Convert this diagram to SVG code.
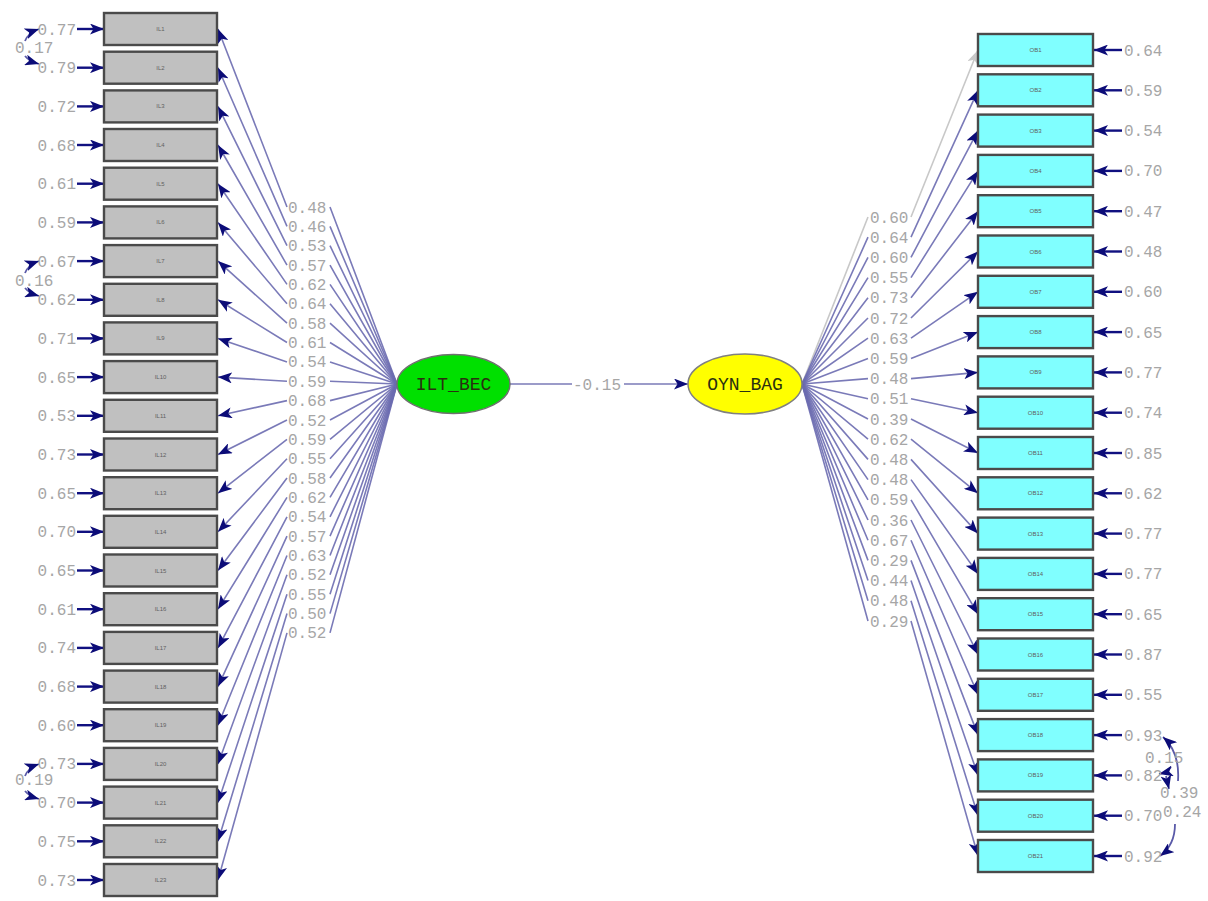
<svg xmlns="http://www.w3.org/2000/svg" width="1208" height="901" viewBox="0 0 1208 901">
<style>
  .bg{fill:#ffffff}
  .obsL{fill:#c0c0c0;stroke:#4a4a4a;stroke-width:2.4}
  .obsR{fill:#80ffff;stroke:#4a4a4a;stroke-width:2.4}
  .blab{font-family:"Liberation Sans",Arial,sans-serif;font-size:6px;fill:#606060;text-anchor:middle}
  .num{font-family:"Liberation Mono","Courier New",monospace;font-size:16px;fill:#a6a6a6}
  .end{text-anchor:end}
  .lat{font-family:"Liberation Mono","Courier New",monospace;font-size:18px;fill:#2a3010;text-anchor:middle}
  .load{fill:none;stroke:#6c6cb0;stroke-width:1.6;stroke-opacity:0.9;marker-end:url(#ah)}
  .fixed{fill:none;stroke:#c8c8c8;stroke-width:1.6;marker-end:url(#ahg)}
  .err{fill:none;stroke:#101080;stroke-width:2.4;marker-end:url(#ah)}
  .cov{fill:none;stroke:#5a5aa8;stroke-width:1.8;marker-end:url(#ah)}
</style>
<defs>
  <marker id="ah" markerUnits="userSpaceOnUse" markerWidth="15" markerHeight="11" refX="14" refY="5.5" orient="auto">
    <path d="M0,0 L14,5.5 L0,11 L3.5,5.5 z" fill="#0c0c78"/>
  </marker>
  <marker id="ahg" markerUnits="userSpaceOnUse" markerWidth="15" markerHeight="11" refX="14" refY="5.5" orient="auto">
    <path d="M0,0 L14,5.5 L0,11 L3.5,5.5 z" fill="#c8c8c8"/>
  </marker>
</defs>
<rect class="bg" x="0" y="0" width="1208" height="901"/>

<!-- paths: loadings, structural path, error terms, error covariances -->
<g id="connectors">
  <!-- ILT_BEC loadings -->
  <path class="load" d="M397,384 L330,207 M287,207 L218,29"/>
  <path class="load" d="M397,384 L330,226.4 M287,226.4 L218,67.7"/>
  <path class="load" d="M397,384 L330,245.7 M287,245.7 L218,106.4"/>
  <path class="load" d="M397,384 L330,265.1 M287,265.1 L218,145"/>
  <path class="load" d="M397,384 L330,284.4 M287,284.4 L218,183.7"/>
  <path class="load" d="M397,384 L330,303.8 M287,303.8 L218,222.4"/>
  <path class="load" d="M397,384 L330,323.2 M287,323.2 L218,261.1"/>
  <path class="load" d="M397,384 L330,342.5 M287,342.5 L218,299.8"/>
  <path class="load" d="M397,384 L330,361.9 M287,361.9 L218,338.4"/>
  <path class="load" d="M397,384 L330,381.2 M287,381.2 L218,377.1"/>
  <path class="load" d="M397,384 L330,400.6 M287,400.6 L218,415.8"/>
  <path class="load" d="M397,384 L330,420 M287,420 L218,454.5"/>
  <path class="load" d="M397,384 L330,439.3 M287,439.3 L218,493.2"/>
  <path class="load" d="M397,384 L330,458.7 M287,458.7 L218,531.8"/>
  <path class="load" d="M397,384 L330,478 M287,478 L218,570.5"/>
  <path class="load" d="M397,384 L330,497.4 M287,497.4 L218,609.2"/>
  <path class="load" d="M397,384 L330,516.8 M287,516.8 L218,647.9"/>
  <path class="load" d="M397,384 L330,536.1 M287,536.1 L218,686.6"/>
  <path class="load" d="M397,384 L330,555.5 M287,555.5 L218,725.2"/>
  <path class="load" d="M397,384 L330,574.8 M287,574.8 L218,763.9"/>
  <path class="load" d="M397,384 L330,594.2 M287,594.2 L218,802.6"/>
  <path class="load" d="M397,384 L330,613.6 M287,613.6 L218,841.3"/>
  <path class="load" d="M397,384 L330,632.9 M287,632.9 L218,880"/>

  <!-- OYN_BAG loadings -->
  <path class="fixed" d="M802,384 L868,217 M911,217 L978,50"/>
  <path class="load" d="M802,384 L868,237.2 M911,237.2 L978,90.3"/>
  <path class="load" d="M802,384 L868,257.4 M911,257.4 L978,130.6"/>
  <path class="load" d="M802,384 L868,277.6 M911,277.6 L978,170.9"/>
  <path class="load" d="M802,384 L868,297.8 M911,297.8 L978,211.2"/>
  <path class="load" d="M802,384 L868,318 M911,318 L978,251.5"/>
  <path class="load" d="M802,384 L868,338.2 M911,338.2 L978,291.8"/>
  <path class="load" d="M802,384 L868,358.4 M911,358.4 L978,332.1"/>
  <path class="load" d="M802,384 L868,378.6 M911,378.6 L978,372.4"/>
  <path class="load" d="M802,384 L868,398.8 M911,398.8 L978,412.7"/>
  <path class="load" d="M802,384 L868,419 M911,419 L978,453"/>
  <path class="load" d="M802,384 L868,439.2 M911,439.2 L978,493.3"/>
  <path class="load" d="M802,384 L868,459.4 M911,459.4 L978,533.6"/>
  <path class="load" d="M802,384 L868,479.6 M911,479.6 L978,573.9"/>
  <path class="load" d="M802,384 L868,499.8 M911,499.8 L978,614.2"/>
  <path class="load" d="M802,384 L868,520 M911,520 L978,654.5"/>
  <path class="load" d="M802,384 L868,540.2 M911,540.2 L978,694.8"/>
  <path class="load" d="M802,384 L868,560.4 M911,560.4 L978,735.1"/>
  <path class="load" d="M802,384 L868,580.6 M911,580.6 L978,775.4"/>
  <path class="load" d="M802,384 L868,600.8 M911,600.8 L978,815.7"/>
  <path class="load" d="M802,384 L868,621 M911,621 L978,856"/>

  <!-- structural path -->
  <path class="load" d="M510,384 L572,384 M624,384 L688,384"/>

  <!-- left error terms -->
  <path class="err" d="M77,29 L104,29"/>
  <path class="err" d="M77,67.7 L104,67.7"/>
  <path class="err" d="M77,106.4 L104,106.4"/>
  <path class="err" d="M77,145 L104,145"/>
  <path class="err" d="M77,183.7 L104,183.7"/>
  <path class="err" d="M77,222.4 L104,222.4"/>
  <path class="err" d="M77,261.1 L104,261.1"/>
  <path class="err" d="M77,299.8 L104,299.8"/>
  <path class="err" d="M77,338.4 L104,338.4"/>
  <path class="err" d="M77,377.1 L104,377.1"/>
  <path class="err" d="M77,415.8 L104,415.8"/>
  <path class="err" d="M77,454.5 L104,454.5"/>
  <path class="err" d="M77,493.2 L104,493.2"/>
  <path class="err" d="M77,531.8 L104,531.8"/>
  <path class="err" d="M77,570.5 L104,570.5"/>
  <path class="err" d="M77,609.2 L104,609.2"/>
  <path class="err" d="M77,647.9 L104,647.9"/>
  <path class="err" d="M77,686.6 L104,686.6"/>
  <path class="err" d="M77,725.2 L104,725.2"/>
  <path class="err" d="M77,763.9 L104,763.9"/>
  <path class="err" d="M77,802.6 L104,802.6"/>
  <path class="err" d="M77,841.3 L104,841.3"/>
  <path class="err" d="M77,880 L104,880"/>

  <!-- right error terms -->
  <path class="err" d="M1122,50 L1094,50"/>
  <path class="err" d="M1122,90.3 L1094,90.3"/>
  <path class="err" d="M1122,130.6 L1094,130.6"/>
  <path class="err" d="M1122,170.9 L1094,170.9"/>
  <path class="err" d="M1122,211.2 L1094,211.2"/>
  <path class="err" d="M1122,251.5 L1094,251.5"/>
  <path class="err" d="M1122,291.8 L1094,291.8"/>
  <path class="err" d="M1122,332.1 L1094,332.1"/>
  <path class="err" d="M1122,372.4 L1094,372.4"/>
  <path class="err" d="M1122,412.7 L1094,412.7"/>
  <path class="err" d="M1122,453 L1094,453"/>
  <path class="err" d="M1122,493.3 L1094,493.3"/>
  <path class="err" d="M1122,533.6 L1094,533.6"/>
  <path class="err" d="M1122,573.9 L1094,573.9"/>
  <path class="err" d="M1122,614.2 L1094,614.2"/>
  <path class="err" d="M1122,654.5 L1094,654.5"/>
  <path class="err" d="M1122,694.8 L1094,694.8"/>
  <path class="err" d="M1122,735.1 L1094,735.1"/>
  <path class="err" d="M1122,775.4 L1094,775.4"/>
  <path class="err" d="M1122,815.7 L1094,815.7"/>
  <path class="err" d="M1122,856 L1094,856"/>

  <!-- error covariances, left -->
  <path class="cov" d="M25,41 Q28,33 39,29"/>
  <path class="cov" d="M25,56 Q29,61 39,64"/>
  <path class="cov" d="M25,273 Q28,265 39,261"/>
  <path class="cov" d="M25,288 Q29,293 39,296"/>
  <path class="cov" d="M25,776 Q28,768 39,764"/>
  <path class="cov" d="M25,791 Q29,796 39,799"/>
  <!-- error covariances, right -->
  <path class="cov" d="M1178,781 Q1180,752 1163,737"/>
  <path class="cov" d="M1171,767 Q1168,772 1159,774"/>
  <path class="cov" d="M1166,776 L1169,789"/>
  <path class="cov" d="M1175,824 Q1175,845 1160,856"/>
</g>

<!-- latent variables -->
<g id="ILT_BEC">
  <ellipse cx="453.5" cy="384" rx="56.5" ry="29.5" fill="#00e000" stroke="#707070" stroke-width="1.5"/>
  <text class="lat" x="453.5" y="390">ILT_BEC</text>
</g>
<g id="OYN_BAG">
  <ellipse cx="745" cy="384" rx="57" ry="30" fill="#ffff00" stroke="#808080" stroke-width="1.5"/>
  <text class="lat" x="745" y="390">OYN_BAG</text>
</g>

<!-- observed indicators, left block -->
<g id="IL1"><rect class="obsL" x="104" y="13" width="113" height="32"/><text class="blab" x="160.5" y="31">IL1</text></g>
<g id="IL2"><rect class="obsL" x="104" y="51.7" width="113" height="32"/><text class="blab" x="160.5" y="69.7">IL2</text></g>
<g id="IL3"><rect class="obsL" x="104" y="90.4" width="113" height="32"/><text class="blab" x="160.5" y="108.4">IL3</text></g>
<g id="IL4"><rect class="obsL" x="104" y="129" width="113" height="32"/><text class="blab" x="160.5" y="147">IL4</text></g>
<g id="IL5"><rect class="obsL" x="104" y="167.7" width="113" height="32"/><text class="blab" x="160.5" y="185.7">IL5</text></g>
<g id="IL6"><rect class="obsL" x="104" y="206.4" width="113" height="32"/><text class="blab" x="160.5" y="224.4">IL6</text></g>
<g id="IL7"><rect class="obsL" x="104" y="245.1" width="113" height="32"/><text class="blab" x="160.5" y="263.1">IL7</text></g>
<g id="IL8"><rect class="obsL" x="104" y="283.8" width="113" height="32"/><text class="blab" x="160.5" y="301.8">IL8</text></g>
<g id="IL9"><rect class="obsL" x="104" y="322.4" width="113" height="32"/><text class="blab" x="160.5" y="340.4">IL9</text></g>
<g id="IL10"><rect class="obsL" x="104" y="361.1" width="113" height="32"/><text class="blab" x="160.5" y="379.1">IL10</text></g>
<g id="IL11"><rect class="obsL" x="104" y="399.8" width="113" height="32"/><text class="blab" x="160.5" y="417.8">IL11</text></g>
<g id="IL12"><rect class="obsL" x="104" y="438.5" width="113" height="32"/><text class="blab" x="160.5" y="456.5">IL12</text></g>
<g id="IL13"><rect class="obsL" x="104" y="477.2" width="113" height="32"/><text class="blab" x="160.5" y="495.2">IL13</text></g>
<g id="IL14"><rect class="obsL" x="104" y="515.8" width="113" height="32"/><text class="blab" x="160.5" y="533.8">IL14</text></g>
<g id="IL15"><rect class="obsL" x="104" y="554.5" width="113" height="32"/><text class="blab" x="160.5" y="572.5">IL15</text></g>
<g id="IL16"><rect class="obsL" x="104" y="593.2" width="113" height="32"/><text class="blab" x="160.5" y="611.2">IL16</text></g>
<g id="IL17"><rect class="obsL" x="104" y="631.9" width="113" height="32"/><text class="blab" x="160.5" y="649.9">IL17</text></g>
<g id="IL18"><rect class="obsL" x="104" y="670.6" width="113" height="32"/><text class="blab" x="160.5" y="688.6">IL18</text></g>
<g id="IL19"><rect class="obsL" x="104" y="709.2" width="113" height="32"/><text class="blab" x="160.5" y="727.2">IL19</text></g>
<g id="IL20"><rect class="obsL" x="104" y="747.9" width="113" height="32"/><text class="blab" x="160.5" y="765.9">IL20</text></g>
<g id="IL21"><rect class="obsL" x="104" y="786.6" width="113" height="32"/><text class="blab" x="160.5" y="804.6">IL21</text></g>
<g id="IL22"><rect class="obsL" x="104" y="825.3" width="113" height="32"/><text class="blab" x="160.5" y="843.3">IL22</text></g>
<g id="IL23"><rect class="obsL" x="104" y="864" width="113" height="32"/><text class="blab" x="160.5" y="882">IL23</text></g>

<!-- observed indicators, right block -->
<g id="OB1"><rect class="obsR" x="978" y="34" width="115" height="32"/><text class="blab" x="1035.5" y="52">OB1</text></g>
<g id="OB2"><rect class="obsR" x="978" y="74.3" width="115" height="32"/><text class="blab" x="1035.5" y="92.3">OB2</text></g>
<g id="OB3"><rect class="obsR" x="978" y="114.6" width="115" height="32"/><text class="blab" x="1035.5" y="132.6">OB3</text></g>
<g id="OB4"><rect class="obsR" x="978" y="154.9" width="115" height="32"/><text class="blab" x="1035.5" y="172.9">OB4</text></g>
<g id="OB5"><rect class="obsR" x="978" y="195.2" width="115" height="32"/><text class="blab" x="1035.5" y="213.2">OB5</text></g>
<g id="OB6"><rect class="obsR" x="978" y="235.5" width="115" height="32"/><text class="blab" x="1035.5" y="253.5">OB6</text></g>
<g id="OB7"><rect class="obsR" x="978" y="275.8" width="115" height="32"/><text class="blab" x="1035.5" y="293.8">OB7</text></g>
<g id="OB8"><rect class="obsR" x="978" y="316.1" width="115" height="32"/><text class="blab" x="1035.5" y="334.1">OB8</text></g>
<g id="OB9"><rect class="obsR" x="978" y="356.4" width="115" height="32"/><text class="blab" x="1035.5" y="374.4">OB9</text></g>
<g id="OB10"><rect class="obsR" x="978" y="396.7" width="115" height="32"/><text class="blab" x="1035.5" y="414.7">OB10</text></g>
<g id="OB11"><rect class="obsR" x="978" y="437" width="115" height="32"/><text class="blab" x="1035.5" y="455">OB11</text></g>
<g id="OB12"><rect class="obsR" x="978" y="477.3" width="115" height="32"/><text class="blab" x="1035.5" y="495.3">OB12</text></g>
<g id="OB13"><rect class="obsR" x="978" y="517.6" width="115" height="32"/><text class="blab" x="1035.5" y="535.6">OB13</text></g>
<g id="OB14"><rect class="obsR" x="978" y="557.9" width="115" height="32"/><text class="blab" x="1035.5" y="575.9">OB14</text></g>
<g id="OB15"><rect class="obsR" x="978" y="598.2" width="115" height="32"/><text class="blab" x="1035.5" y="616.2">OB15</text></g>
<g id="OB16"><rect class="obsR" x="978" y="638.5" width="115" height="32"/><text class="blab" x="1035.5" y="656.5">OB16</text></g>
<g id="OB17"><rect class="obsR" x="978" y="678.8" width="115" height="32"/><text class="blab" x="1035.5" y="696.8">OB17</text></g>
<g id="OB18"><rect class="obsR" x="978" y="719.1" width="115" height="32"/><text class="blab" x="1035.5" y="737.1">OB18</text></g>
<g id="OB19"><rect class="obsR" x="978" y="759.4" width="115" height="32"/><text class="blab" x="1035.5" y="777.4">OB19</text></g>
<g id="OB20"><rect class="obsR" x="978" y="799.7" width="115" height="32"/><text class="blab" x="1035.5" y="817.7">OB20</text></g>
<g id="OB21"><rect class="obsR" x="978" y="840" width="115" height="32"/><text class="blab" x="1035.5" y="858">OB21</text></g>

<!-- numeric estimates -->
<g id="estimates" class="num">
  <!-- left error variances -->
  <text class="end" x="76" y="34.5">0.77</text>
  <text class="end" x="76" y="73.2">0.79</text>
  <text class="end" x="76" y="111.9">0.72</text>
  <text class="end" x="76" y="150.5">0.68</text>
  <text class="end" x="76" y="189.2">0.61</text>
  <text class="end" x="76" y="227.9">0.59</text>
  <text class="end" x="76" y="266.6">0.67</text>
  <text class="end" x="76" y="305.3">0.62</text>
  <text class="end" x="76" y="343.9">0.71</text>
  <text class="end" x="76" y="382.6">0.65</text>
  <text class="end" x="76" y="421.3">0.53</text>
  <text class="end" x="76" y="460">0.73</text>
  <text class="end" x="76" y="498.7">0.65</text>
  <text class="end" x="76" y="537.3">0.70</text>
  <text class="end" x="76" y="576">0.65</text>
  <text class="end" x="76" y="614.7">0.61</text>
  <text class="end" x="76" y="653.4">0.74</text>
  <text class="end" x="76" y="692.1">0.68</text>
  <text class="end" x="76" y="730.7">0.60</text>
  <text class="end" x="76" y="769.4">0.73</text>
  <text class="end" x="76" y="808.1">0.70</text>
  <text class="end" x="76" y="846.8">0.75</text>
  <text class="end" x="76" y="885.5">0.73</text>
  <!-- left error covariances -->
  <text x="15" y="52.5">0.17</text>
  <text x="15" y="285.5">0.16</text>
  <text x="15" y="784.5">0.19</text>

  <!-- ILT_BEC loadings -->
  <text x="288" y="212.5">0.48</text>
  <text x="288" y="231.9">0.46</text>
  <text x="288" y="251.2">0.53</text>
  <text x="288" y="270.6">0.57</text>
  <text x="288" y="289.9">0.62</text>
  <text x="288" y="309.3">0.64</text>
  <text x="288" y="328.7">0.58</text>
  <text x="288" y="348">0.61</text>
  <text x="288" y="367.4">0.54</text>
  <text x="288" y="386.7">0.59</text>
  <text x="288" y="406.1">0.68</text>
  <text x="288" y="425.5">0.52</text>
  <text x="288" y="444.8">0.59</text>
  <text x="288" y="464.2">0.55</text>
  <text x="288" y="483.5">0.58</text>
  <text x="288" y="502.9">0.62</text>
  <text x="288" y="522.3">0.54</text>
  <text x="288" y="541.6">0.57</text>
  <text x="288" y="561">0.63</text>
  <text x="288" y="580.3">0.52</text>
  <text x="288" y="599.7">0.55</text>
  <text x="288" y="619.1">0.50</text>
  <text x="288" y="638.4">0.52</text>

  <!-- structural coefficient -->
  <text x="573" y="389.5">-0.15</text>

  <!-- OYN_BAG loadings -->
  <text x="870" y="222.5">0.60</text>
  <text x="870" y="242.7">0.64</text>
  <text x="870" y="262.9">0.60</text>
  <text x="870" y="283.1">0.55</text>
  <text x="870" y="303.3">0.73</text>
  <text x="870" y="323.5">0.72</text>
  <text x="870" y="343.7">0.63</text>
  <text x="870" y="363.9">0.59</text>
  <text x="870" y="384.1">0.48</text>
  <text x="870" y="404.3">0.51</text>
  <text x="870" y="424.5">0.39</text>
  <text x="870" y="444.7">0.62</text>
  <text x="870" y="464.9">0.48</text>
  <text x="870" y="485.1">0.48</text>
  <text x="870" y="505.3">0.59</text>
  <text x="870" y="525.5">0.36</text>
  <text x="870" y="545.7">0.67</text>
  <text x="870" y="565.9">0.29</text>
  <text x="870" y="586.1">0.44</text>
  <text x="870" y="606.3">0.48</text>
  <text x="870" y="626.5">0.29</text>

  <!-- right error variances -->
  <text x="1124" y="55.5">0.64</text>
  <text x="1124" y="95.8">0.59</text>
  <text x="1124" y="136.1">0.54</text>
  <text x="1124" y="176.4">0.70</text>
  <text x="1124" y="216.7">0.47</text>
  <text x="1124" y="257">0.48</text>
  <text x="1124" y="297.3">0.60</text>
  <text x="1124" y="337.6">0.65</text>
  <text x="1124" y="377.9">0.77</text>
  <text x="1124" y="418.2">0.74</text>
  <text x="1124" y="458.5">0.85</text>
  <text x="1124" y="498.8">0.62</text>
  <text x="1124" y="539.1">0.77</text>
  <text x="1124" y="579.4">0.77</text>
  <text x="1124" y="619.7">0.65</text>
  <text x="1124" y="660">0.87</text>
  <text x="1124" y="700.3">0.55</text>
  <text x="1124" y="740.6">0.93</text>
  <text x="1124" y="780.9">0.82</text>
  <text x="1124" y="821.2">0.70</text>
  <text x="1124" y="861.5">0.92</text>
  <!-- right error covariances -->
  <text x="1145" y="762.5">0.15</text>
  <text x="1160" y="797.5">0.39</text>
  <text x="1163" y="817">0.24</text>
</g>
</svg>
